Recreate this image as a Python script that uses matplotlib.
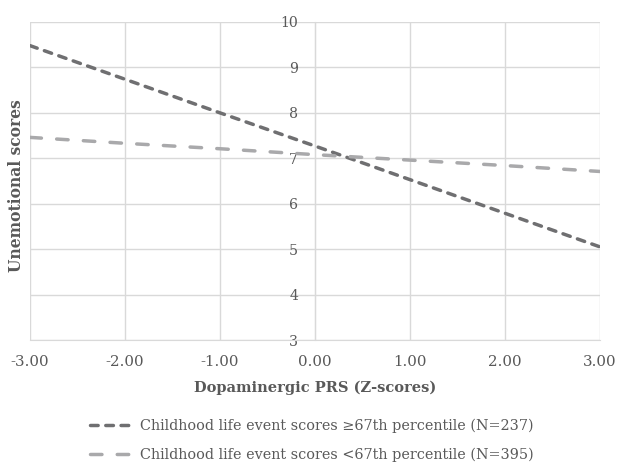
import numpy as np
import matplotlib.pyplot as plt

plt.rcParams['font.family'] = ['DejaVu Serif']

prs = [-3, -2, -1, 0, 1, 2, 3]
high_le = [9.48, 8.74, 8.00, 7.27, 6.53, 5.79, 5.05]
low_le = [7.46, 7.33, 7.21, 7.08, 6.96, 6.84, 6.71]
labels = ['Childhood life event scores \u226567th percentile (N=237)',
          'Childhood life event scores <67th percentile (N=395)']

grey_txt = '#595959'
grid_c = '#d9d9d9'

fig = plt.figure(figsize=(6.18, 4.65), dpi=100)
ax = fig.add_axes([0.0485, 0.2688, 0.9223, 0.6839])

l1, = ax.plot(prs, high_le, color='#6f6f71', lw=2.5, dashes=(2.2, 2.2),
              dash_capstyle='round')
l2, = ax.plot(prs, low_le, color='#a9a9ab', lw=2.5, dashes=(3.3, 4.4),
              dash_capstyle='round')

ax.set_xlim(-3, 3)
ax.set_ylim(3, 10)
ax.set_xticks(np.arange(-3, 4, 1))
ax.set_xticklabels(['%.2f' % v for v in np.arange(-3, 4, 1)])
ax.set_yticks(np.arange(3, 11, 1))
ax.grid(True, color=grid_c, lw=1)
ax.set_axisbelow(True)

for s in ['top', 'right']:
    ax.spines[s].set_visible(False)
ax.spines['left'].set_position(('data', 0))
ax.spines['left'].set_color(grid_c)
ax.spines['bottom'].set_color(grid_c)
ax.tick_params(axis='both', length=0, colors=grey_txt)
ax.tick_params(axis='x', pad=11, labelsize=10.8)
ax.tick_params(axis='y', pad=12, labelsize=10.2)

ax.set_xlabel('Dopaminergic PRS (Z-scores)', fontweight='bold', color=grey_txt,
              fontsize=10.5, labelpad=8)
ax.set_ylabel('Unemotional scores', fontweight='bold', color=grey_txt, fontsize=11.2)
ax.yaxis.set_label_coords(-0.008, 0.484)

fig.legend([l1, l2], labels, loc='upper left', bbox_to_anchor=(0.1456, 0.1),
           frameon=False, fontsize=10.4, labelcolor=grey_txt, handlelength=2.9,
           labelspacing=1.05, handletextpad=0.55, borderpad=0, borderaxespad=0)

fig.savefig('out.png', dpi=100)
